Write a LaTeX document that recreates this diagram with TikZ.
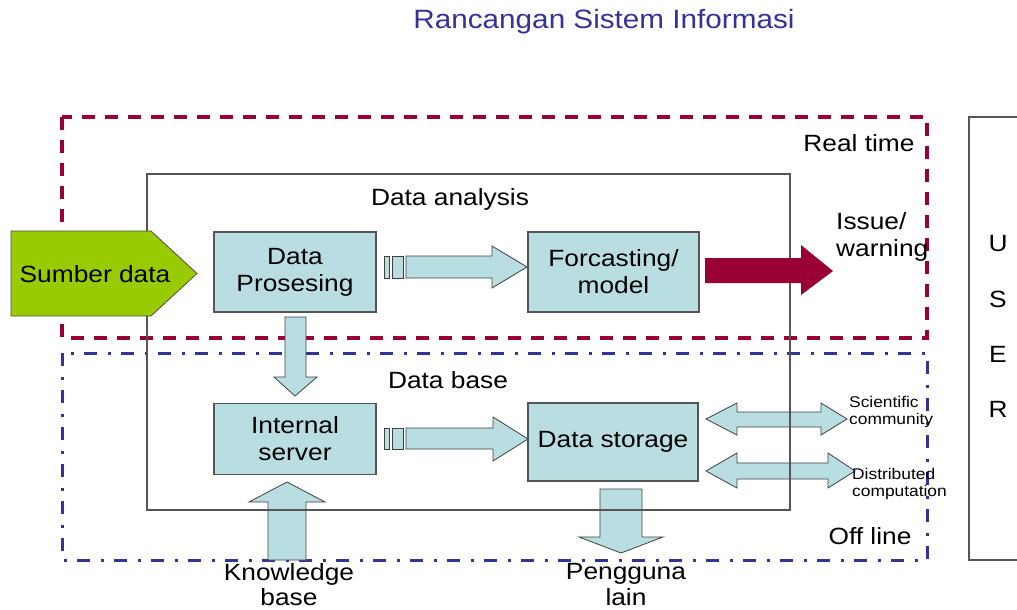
\documentclass[tikz,border=0pt]{standalone}
\usepackage{fontspec}
\setmainfont{Liberation Sans}[FakeStretch=1.12]
\definecolor{paleblue}{RGB}{185,222,226}
\definecolor{srcgreen}{RGB}{153,204,0}
\definecolor{wine}{RGB}{153,0,51}
\definecolor{navy}{RGB}{51,51,153}
\definecolor{framegray}{RGB}{85,85,85}
\begin{document}
\begin{tikzpicture}[x=1pt,y=-1pt,
  txt/.style={font=\fontsize{23.5}{27}\selectfont, align=center, inner sep=0pt},
  small/.style={font=\fontsize{15.5}{17}\selectfont, align=left, inner sep=0pt, anchor=west},
  box/.style={txt, draw=framegray, line width=1.2pt, fill=paleblue},
  fat/.style={draw=black!75, line width=0.8pt, fill=paleblue, line join=miter},
  realtime/.style={draw=wine, line width=3.5pt, dash pattern=on 13pt off 10pt},
  offline/.style={draw=navy, line width=3pt, dash pattern=on 13pt off 10.5pt on 3pt off 10.5pt},
]
\clip (0,0) rectangle (1017,610);
\fill[white] (0,0) rectangle (1017,610);

% title
\node[txt, font=\fontsize{26.5}{30}\selectfont, text=navy] (title) at (604,22) {Rancangan Sistem Informasi};

% real-time and off-line zones
\draw[realtime] (62,117) rectangle (927,338);
\draw[offline] (62,353) rectangle (927,560);

% block arrows that the frame line crosses
\draw[fat] (706,419) -- (737,403) -- (737,412) -- (821,412) -- (821,403) -- (847,419)
  -- (821,435) -- (821,427) -- (737,427) -- (737,435) -- cycle;
\draw[fat] (706,471) -- (737,453) -- (737,463) -- (828,463) -- (828,453) -- (855,471)
  -- (828,488) -- (828,479) -- (737,479) -- (737,488) -- cycle;
\draw[fat] (287,482) -- (325,502) -- (306,502) -- (306,560) -- (268,560) -- (268,502) -- (249,502) -- cycle;
\draw[fat] (600,489) -- (642,489) -- (642,537) -- (663,537) -- (621,553) -- (579,537) -- (600,537) -- cycle;
\draw[fat] (285,317) -- (306,317) -- (306,377) -- (317,377) -- (295,396) -- (274,377) -- (285,377) -- cycle;

% data analysis frame
\draw[framegray, line width=1.5pt] (147,174) rectangle (790,510);

% striped arrows
\draw[fat] (384,256) rectangle (389,278);
\draw[fat] (392,256) rectangle (403,278);
\draw[fat] (406,256) -- (492,256) -- (492,246) -- (527,267) -- (492,288) -- (492,278) -- (406,278) -- cycle;
\draw[fat] (384,428) rectangle (389,449);
\draw[fat] (392,428) rectangle (403,449);
\draw[fat] (406,428) -- (493,428) -- (493,417) -- (528,439) -- (493,461) -- (493,449) -- (406,449) -- cycle;

% issue / warning arrow
\fill[wine] (705,258) -- (801,258) -- (801,245) -- (833,271) -- (801,295) -- (801,283) -- (705,283) -- cycle;

% process boxes
\node[box, minimum width=162pt, minimum height=80pt] (dp) at (295,272) {Data\\Prosesing};
\node[box, minimum width=171pt, minimum height=80pt] (fm) at (613.5,272) {Forcasting/\\model};
\node[box, minimum width=162pt, minimum height=71pt] (is) at (295,439) {Internal\\server};
\node[box, minimum width=170pt, minimum height=78pt] (ds) at (613,442) {Data storage};

% data source
\draw[fill=srcgreen, draw=black!70, line width=0.8pt] (11,231) -- (151,231) -- (197,273.5) -- (151,316) -- (11,316) -- cycle;
\node[txt] (src) at (95,274) {Sumber data};

% user column
\draw[framegray, line width=1.2pt] (1030,117) -- (969,117) -- (969,560) -- (1030,560);
\node[txt] (u) at (998,244) {U};
\node[txt] (s) at (998,299) {S};
\node[txt] (e) at (998,354) {E};
\node[txt] (r) at (998,409) {R};

% labels
\node[txt] (da) at (450,199) {Data analysis};
\node[txt] (db) at (448,380) {Data base};
\node[txt] (rt) at (859,143) {Real time};
\node[txt] (ol) at (870,536) {Off line};
\node[txt, align=left, anchor=west] (iw) at (836,237) {Issue/\\warning};
\node[txt, font=\fontsize{23.5}{25}\selectfont] (kb) at (289,585) {Knowledge\\base};
\node[txt, font=\fontsize{23.5}{26}\selectfont] (pl) at (626,585) {Pengguna\\lain};
\node[small] (sc) at (849,412) {Scientific\\community};
\node[small] (dc) at (852,484) {Distributed\\computation};
\end{tikzpicture}
\end{document}
